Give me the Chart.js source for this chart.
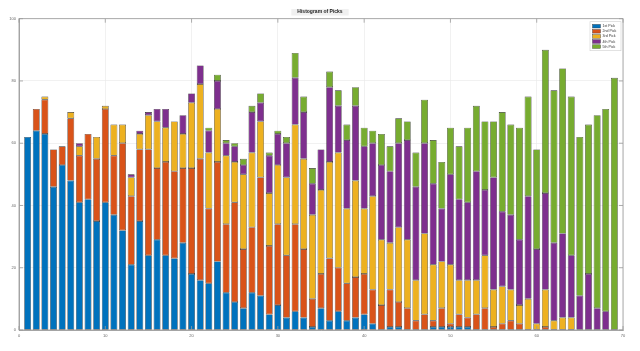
<!DOCTYPE html>
<html>
<head>
<meta charset="utf-8">
<script src="https://cdn.jsdelivr.net/npm/chart.js@4"></script>
<style>
  html, body { margin: 0; padding: 0; background: #fff; }
  #wrap { width: 640px; height: 351px; }
</style>
</head>
<body>
<div id="wrap"><canvas id="pickChart" width="640" height="351"></canvas></div>
<script>
// pick number (x position of each bar)
const picks = [1,2,3,4,5,6,7,8,9,10,11,12,13,14,15,16,17,18,19,20,21,22,23,24,25,26,27,28,29,30,
  31,32,33,34,35,36,37,38,39,40,41,42,43,44,45,46,47,48,49,50,51,52,53,54,55,56,57,58,59,60,
  61,62,63,64,65,66,67,68,69];

const pick1 = [62,64,63,46,53,48,41,42,35,41,37,32,21,35,24,29,24,23,28,18,16,15,22,12,9,7,12,11,5,8,
  4,6,4,1,7,3,6,3,4,5,2,0,1,1,0,0,0,1,1,1,1,1,0,0,0,0,0,0,0,0,
  0,0,0,0,0,0,0,0,0];
const pick2 = [0,7,11,12,6,20,15,21,20,30,19,28,22,23,34,23,30,28,24,34,39,24,32,22,32,19,21,38,22,26,
  20,28,22,9,11,20,14,12,13,13,11,8,12,8,7,3,5,2,6,1,4,3,5,7,1,2,3,2,0,0,
  1,0,0,0,0,0,0,0,0];
const pick3 = [0,0,1,0,0,2,3,0,7,1,10,6,6,5,11,15,11,16,11,21,24,18,17,22,13,24,24,18,17,19,
  25,32,29,27,27,31,37,24,31,21,30,21,15,24,22,13,26,18,15,19,11,12,11,17,12,12,10,6,10,2,
  12,3,4,4,0,0,0,0,0];
const pick4 = [0,0,0,0,0,0,1,0,0,0,0,0,1,1,1,4,6,0,6,3,6,7,9,4,5,3,13,6,12,10,
  11,15,15,10,13,24,15,22,24,20,17,24,23,27,32,30,29,26,17,29,26,25,35,21,36,24,24,21,33,24,
  31,25,27,20,11,18,7,6,0];
const pick5 = [0,0,0,0,0,0,0,0,0,0,0,0,0,0,0,0,0,0,0,0,0,1,2,1,1,2,2,3,1,1,
  2,8,5,5,0,5,5,5,6,6,4,10,8,8,6,11,14,14,15,15,17,24,21,22,18,32,29,36,32,32,
  46,49,53,51,51,48,62,65,81];

const seriesNames = ['1st Pick', '2nd Pick', '3rd Pick', '4th Pick', '5th Pick'];
const seriesColors = ['#0072BD', '#D95319', '#EDB120', '#7E2F8E', '#77AC30'];

const xTicks = [0, 10, 20, 30, 40, 50, 60, 70];
const yTicks = [0, 20, 40, 60, 80, 100];

const FONT = '"Liberation Sans", Arial, sans-serif';

function toPoints(vals) {
  return vals.map((v, i) => ({ x: picks[i], y: v }));
}

// 標題後面的淺灰底
const titleBoxPlugin = {
  id: 'titleBox',
  beforeDraw(chart) {
    const ctx = chart.ctx;
    ctx.save();
    ctx.font = 'bold 5px ' + FONT;
    const w = ctx.measureText(chart.options.plugins.title.text).width + 12;
    ctx.fillStyle = '#f0f0f0';
    ctx.fillRect(chart.width / 2 - w / 2, 9, w, 6.5);
    ctx.restore();
  }
};

// 外框、刻度線 + 圖例 (畫在繪圖區內右上角)
const boxLegendPlugin = {
  id: 'boxLegend',
  afterDraw(chart) {
    const ctx = chart.ctx;
    const a = chart.chartArea;
    const xs = chart.scales.x, ys = chart.scales.y;
    ctx.save();
    ctx.strokeStyle = '#9a9a9a';
    ctx.lineWidth = 0.8;
    ctx.strokeRect(a.left, a.top, a.right - a.left, a.bottom - a.top);
    ctx.beginPath();
    xTicks.forEach(v => {
      const px = xs.getPixelForValue(v);
      ctx.moveTo(px, a.bottom); ctx.lineTo(px, a.bottom - 4);
      ctx.moveTo(px, a.top); ctx.lineTo(px, a.top + 4);
    });
    yTicks.forEach(v => {
      const py = ys.getPixelForValue(v);
      ctx.moveTo(a.left, py); ctx.lineTo(a.left + 4, py);
      ctx.moveTo(a.right, py); ctx.lineTo(a.right - 4, py);
    });
    ctx.stroke();

    const lx = a.right - 33, ly = a.top + 3;
    ctx.fillStyle = '#fff';
    ctx.fillRect(lx, ly, 31, 29);
    ctx.strokeStyle = '#cfcfcf';
    ctx.lineWidth = 0.6;
    ctx.strokeRect(lx, ly, 31, 29);

    ctx.font = '3.6px ' + FONT;
    ctx.textBaseline = 'middle';
    chart.data.datasets.forEach((ds, i) => {
      const y = ly + 4.5 + i * 5.1;
      ctx.fillStyle = ds.backgroundColor;
      ctx.fillRect(lx + 2.5, y - 1.8, 8, 3.6);
      ctx.strokeStyle = '#333';
      ctx.lineWidth = 0.4;
      ctx.strokeRect(lx + 2.5, y - 1.8, 8, 3.6);
      ctx.fillStyle = '#333';
      ctx.fillText(ds.label, lx + 12.5, y);
    });
    ctx.restore();
  }
};

const datasets = [pick1, pick2, pick3, pick4, pick5].map((vals, i) => ({
  label: seriesNames[i],
  data: toPoints(vals),
  backgroundColor: seriesColors[i],
  borderColor: '#2b2b2b',
  borderWidth: 0.6,
  borderSkipped: false,
  barPercentage: 0.8,
  categoryPercentage: 1.0
}));

new Chart(document.getElementById('pickChart'), {
  type: 'bar',
  data: { datasets },
  plugins: [titleBoxPlugin, boxLegendPlugin],
  options: {
    responsive: false,
    animation: false,
    layout: { padding: 0 },
    plugins: {
      legend: { display: false },
      tooltip: { enabled: false },
      title: {
        display: true,
        text: 'Histogram of Picks',
        color: '#222',
        font: { family: FONT, size: 5, weight: 'bold', lineHeight: 1.2 },
        padding: { top: 9, bottom: 3.7 }
      }
    },
    scales: {
      x: {
        type: 'linear',
        stacked: true,
        offset: false,
        min: 0,
        max: 70,
        afterFit: s => { s.height = 21; },
        afterBuildTicks: s => { s.ticks = xTicks.map(v => ({ value: v })); },
        grid: { color: '#e8e8e8', lineWidth: 0.6, drawTicks: false, offset: false },
        border: { color: '#9a9a9a', width: 0.8 },
        ticks: { color: '#666', font: { family: FONT, size: 4 }, padding: 3 }
      },
      y: {
        stacked: true,
        min: 0,
        max: 100,
        afterFit: s => { s.width = 19; },
        afterBuildTicks: s => { s.ticks = yTicks.map(v => ({ value: v })); },
        grid: { color: '#e8e8e8', lineWidth: 0.6, drawTicks: false },
        border: { color: '#9a9a9a', width: 0.8 },
        ticks: { color: '#666', font: { family: FONT, size: 4 }, padding: 3 }
      },
      yRight: {
        position: 'right',
        display: true,
        afterFit: s => { s.width = 17; },
        grid: { display: false, drawTicks: false },
        border: { display: false },
        ticks: { display: false }
      }
    }
  }
});
</script>
</body>
</html>
